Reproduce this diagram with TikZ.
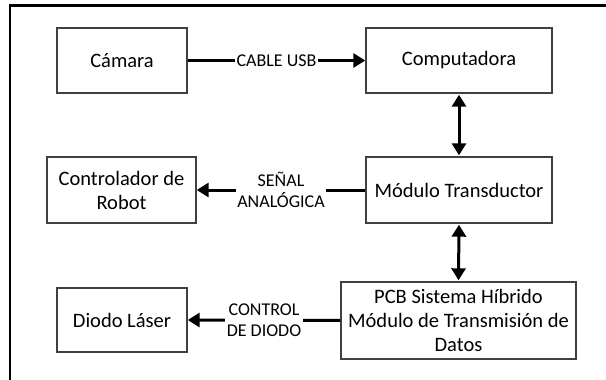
\documentclass[tikz,border=0pt]{standalone}
\usepackage{fontspec}
\setmainfont{Carlito}
\usetikzlibrary{arrows.meta}
\tikzset{
  blk/.style={draw=black!75, line width=1.4pt, fill=white, align=center, inner sep=2pt,
    font=\fontsize{20.5}{24}\selectfont},
  conn/.style={line width=3pt, -{Triangle[length=12pt,width=14pt]}},
  dconn/.style={line width=3pt, {Triangle[length=12pt,width=14pt]}-{Triangle[length=12pt,width=14pt]}},
  lbl/.style={fill=white, inner sep=1.5pt, align=center, font=\fontsize{18}{21}\selectfont},
  frameline/.style={line width=2.8pt, black}
}
\begin{document}
\begin{tikzpicture}[x=1pt,y=-1pt]
\useasboundingbox (0,0) rectangle (606,380);
\fill[white] (0,0) rectangle (606,380);
\coordinate (fbl) at (10,382);
\coordinate (ftl) at (10,5.5);
\coordinate (ftr) at (608,5.5);
\draw[frameline] (fbl) -- (ftl) -- (ftr);

\node[blk, minimum width=130pt, minimum height=65pt] (cam) at (122,60.5) {Cámara};
\node[blk, minimum width=186pt, minimum height=65pt] (comp) at (459,60.5) {Computadora};
\node[blk, minimum width=149pt, minimum height=66pt] (ctrl) at (121.5,190) {Controlador de\\Robot};
\node[blk, minimum width=186pt, minimum height=66pt] (mod) at (459,190) {Módulo Transductor};
\node[blk, minimum width=130pt, minimum height=64pt] (diodo) at (122,320) {Diodo Láser};
\node[blk, minimum width=235pt, minimum height=77pt] (pcb) at (458.5,320.5) {PCB Sistema Híbrido\\Módulo de Transmisión de\\Datos};

\draw[conn] (cam.east) -- node[lbl] {CABLE USB} (comp.west);
\draw[conn] (mod.west) -- node[lbl] {SEÑAL\\ANALÓGICA} (ctrl.east);
\draw[conn] (pcb.west) -- node[lbl] {CONTROL\\DE DIODO} (diodo.east);
\draw[dconn] ([yshift=-1pt]comp.south) -- ([yshift=1pt]mod.north);
\draw[dconn] ([yshift=-1pt]mod.south) -- ([yshift=1pt]pcb.north);
\end{tikzpicture}
\end{document}
